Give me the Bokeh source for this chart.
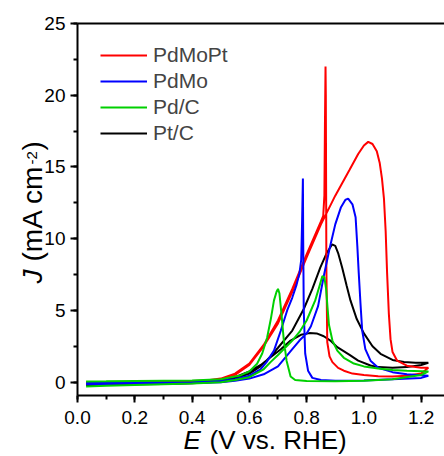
import math
from bokeh.plotting import figure
from bokeh.models import (Range1d, SingleIntervalTicker, LinearAxis, Legend, LegendItem,
                          PrintfTickFormatter)
from bokeh.core.properties import value
from bokeh.embed import file_html
from bokeh.resources import INLINE

# ---------------- data ----------------
series_names = ["PdMoPt", "PdMo", "Pd/C", "Pt/C"]
series_colors = ["#ff0000", "#0000ff", "#00d000", "#000000"]

# PdMoPt: forward then backward scan
pdmopt_E = [0.03, 0.1, 0.2, 0.3, 0.4, 0.45, 0.5, 0.55, 0.6, 0.65, 0.7, 0.75, 0.8, 0.85, 0.9,
            0.95, 0.98, 1.0, 1.015, 1.03, 1.045, 1.055, 1.063, 1.07, 1.076, 1.081, 1.087, 1.093,
            1.1, 1.116, 1.15, 1.2, 1.225,
            1.2, 1.15, 1.1, 1.05, 1.0, 0.96, 0.93, 0.91, 0.89, 0.88, 0.872, 0.869, 0.867, 0.866,
            0.864, 0.862, 0.858, 0.85, 0.8, 0.75, 0.7, 0.65, 0.6, 0.55, 0.5, 0.45, 0.4, 0.3,
            0.2, 0.1, 0.03]
pdmopt_J = [-0.1, -0.08, -0.05, -0.02, 0.05, 0.12, 0.25, 0.5, 1.2, 2.5, 4.1, 6.3, 8.7, 11.0, 13.0,
            14.8, 15.9, 16.5, 16.75, 16.6, 16.1, 15.3, 14.2, 12.8, 10.5, 7.6, 4.8, 3.0,
            2.1, 1.5, 1.15, 1.0, 1.0,
            0.6, 0.45, 0.4, 0.42, 0.5, 0.6, 0.8, 1.0, 1.4, 1.8, 2.8, 8.0, 20.0, 22.0,
            18.0, 13.0, 11.6, 11.2, 8.9, 6.5, 4.3, 2.6, 1.3, 0.6, 0.25, 0.12, 0.08, 0.05,
            0.03, 0.02, 0.0]

pdmo_E = [0.03, 0.1, 0.2, 0.3, 0.4, 0.5, 0.55, 0.6, 0.65, 0.7, 0.75, 0.775, 0.8, 0.815, 0.84,
          0.86, 0.88, 0.9, 0.92, 0.935, 0.945, 0.96, 0.971, 0.977, 0.982, 0.988, 0.994, 1.005,
          1.023, 1.05, 1.1, 1.15, 1.225,
          1.2, 1.1, 1.0, 0.9, 0.85, 0.82, 0.805, 0.795, 0.79, 0.788, 0.787, 0.784, 0.781,
          0.775, 0.765, 0.75, 0.732, 0.71, 0.686, 0.66, 0.639, 0.6, 0.55, 0.5, 0.4, 0.3, 0.2,
          0.1, 0.03]
pdmo_J = [-0.15, -0.12, -0.1, -0.08, -0.05, 0.0, 0.1, 0.25, 0.55, 1.1, 2.3, 2.9, 3.4, 3.9, 5.3,
          7.4, 9.3, 11.0, 12.2, 12.7, 12.8, 12.4, 11.5, 9.5, 7.6, 5.5, 3.6, 2.3,
          1.5, 1.0, 0.7, 0.55, 0.45,
          0.3, 0.2, 0.12, 0.1, 0.15, 0.3, 0.8, 2.0, 5.0, 10.0, 14.2, 11.0, 8.5,
          7.6, 6.8, 5.9, 5.0, 3.6, 2.2, 1.4, 0.9, 0.45, 0.2, 0.1, 0.0, -0.02, -0.03,
          -0.04, -0.05]

pdc_E = [0.03, 0.1, 0.2, 0.3, 0.4, 0.5, 0.55, 0.6, 0.65, 0.674, 0.7, 0.75, 0.775, 0.8, 0.83,
         0.845, 0.855, 0.862, 0.868, 0.873, 0.878, 0.89, 0.907, 0.93, 0.965, 1.0, 1.05, 1.1,
         1.15, 1.225,
         1.2, 1.1, 1.0, 0.9, 0.8, 0.76, 0.744, 0.73, 0.72, 0.712, 0.705, 0.7, 0.695, 0.686,
         0.675, 0.662, 0.645, 0.627, 0.6, 0.569, 0.5, 0.4, 0.3, 0.2, 0.1, 0.03]
pdc_J = [-0.3, -0.25, -0.2, -0.15, -0.1, 0.0, 0.15, 0.35, 0.9, 1.4, 1.9, 2.9, 3.5, 4.3, 5.7,
         6.7, 7.4, 7.3, 6.5, 5.2, 4.0, 2.9, 2.2, 1.7, 1.3, 1.1, 0.95, 0.85,
         0.8, 0.75,
         0.5, 0.2, 0.1, 0.06, 0.08, 0.15, 0.4, 1.5, 3.0, 4.8, 6.2, 6.5, 6.3, 5.7,
         4.4, 3.1, 2.0, 1.28, 0.75, 0.47, 0.2, 0.12, 0.1, 0.08, 0.06, 0.05]

ptc_E = [0.03, 0.1, 0.2, 0.3, 0.4, 0.5, 0.55, 0.6, 0.639, 0.674, 0.7, 0.75, 0.79, 0.82, 0.848,
         0.87, 0.889, 0.9, 0.91, 0.924, 0.94, 0.953, 0.975, 1.0, 1.03, 1.058, 1.1, 1.14, 1.18,
         1.225,
         1.2, 1.15, 1.1, 1.05, 1.023, 0.98, 0.95, 0.907, 0.883, 0.86, 0.835, 0.81, 0.78, 0.744,
         0.71, 0.674, 0.64, 0.6, 0.55, 0.5, 0.4, 0.3, 0.2, 0.1, 0.03]
ptc_J = [-0.2, -0.18, -0.15, -0.12, -0.08, 0.05, 0.25, 0.6, 1.1, 1.8, 2.4, 3.6, 5.1, 6.5, 8.0,
         9.0, 9.6, 9.5, 9.0, 8.0, 6.7, 5.7, 4.4, 3.4, 2.5, 1.98, 1.55, 1.4, 1.35,
         1.35,
         1.2, 1.05, 1.0, 1.05, 1.16, 1.5, 1.9, 2.44, 2.9, 3.2, 3.4, 3.42, 3.3, 2.9,
         2.3, 1.74, 1.2, 0.75, 0.35, 0.15, 0.05, 0.02, 0.0, -0.02, -0.05]

series_E = [pdmopt_E, pdmo_E, pdc_E, ptc_E]
series_J = [pdmopt_J, pdmo_J, pdc_J, ptc_J]

x_ticks_interval = 0.2
y_ticks_interval = 5
x_title_parts = ["E", "(V vs. RHE)"]
y_title_parts = ["J", "(mA cm", "-2", ")"]

FONT = "Liberation Sans"
X0, X1 = 0.0, 1.2814
Y0, Y1 = -0.928, 25.0

p = figure(width=444, height=456, output_backend="svg", toolbar_location=None,
           x_range=Range1d(X0, X1), y_range=Range1d(Y0, Y1),
           min_border_left=77, min_border_right=0, min_border_top=23, min_border_bottom=61,
           x_axis_location=None, y_axis_location=None)
p.outline_line_color = None
p.xgrid.visible = False
p.ygrid.visible = False
p.background_fill_color = "white"
p.border_fill_color = "white"

def style_axis(ax, size="19px"):
    ax.axis_line_width = 2
    ax.axis_line_color = "black"
    ax.major_tick_line_width = 2
    ax.minor_tick_line_width = 2
    ax.major_tick_out = 7
    ax.major_tick_in = 0
    ax.minor_tick_out = 4
    ax.minor_tick_in = 0
    ax.major_label_text_font = FONT
    ax.major_label_text_font_size = size
    ax.major_label_text_color = "black"

xaxis = LinearAxis(ticker=SingleIntervalTicker(interval=x_ticks_interval, num_minor_ticks=2),
                   formatter=PrintfTickFormatter(format="%.1f"))
style_axis(xaxis)
xaxis.major_label_standoff = 8
p.add_layout(xaxis, "below")

yaxis = LinearAxis(ticker=SingleIntervalTicker(interval=y_ticks_interval, num_minor_ticks=2))
style_axis(yaxis)
yaxis.major_label_standoff = 5
p.add_layout(yaxis, "left")

# top frame border (no right border in the reference)
p.line(x=[X0, X1], y=[Y1, Y1], line_color="black", line_width=2, level="overlay")

renderers = {}
for i in [3, 0, 1, 2]:
    renderers[i] = p.line(series_E[i], series_J[i], line_color=series_colors[i], line_width=2)

legend = Legend(items=[LegendItem(label=series_names[i], renderers=[renderers[i]]) for i in range(4)],
                location=(23, 249))
legend.label_text_font = FONT
legend.label_text_font_size = "21px"
legend.label_height = 26
legend.glyph_height = 26
legend.glyph_width = 47
legend.label_standoff = 6
legend.spacing = 0
legend.padding = 0
legend.margin = 0
legend.border_line_color = None
legend.background_fill_color = None
p.add_layout(legend, "center")

# axis titles, drawn as unclipped text glyphs (parts so that the symbols are italic)
def px2x(px):
    return X0 + (px - 77) * (X1 - X0) / 367.0

def py2y(py):
    return Y1 - (py - 23) * (Y1 - Y0) / 372.0

def txt(px, py, text, size, italic=False, angle=0.0):
    p.text(x=[px2x(px)], y=[py2y(py)], text=[text], angle=angle,
           text_font=value(FONT), text_font_style="italic" if italic else "normal",
           text_font_size="%dpx" % size, text_baseline="middle", text_align="left",
           text_color="black", level="overlay")

# baseline positions: x title baseline at y=448; y title baseline at x=42
xs = 26
txt(183, 448 - 0.346 * xs, x_title_parts[0], xs, italic=True)
txt(209, 448 - 0.346 * xs, x_title_parts[1], xs)

ang = math.pi / 2
ys = 28
txt(42 - 0.346 * ys, 283, y_title_parts[0], ys, italic=True, angle=ang)
txt(42 - 0.346 * ys, 261, y_title_parts[1], ys, angle=ang)
txt(37 - 0.346 * 15, 164, y_title_parts[2], 15, angle=ang)
txt(42 - 0.346 * ys, 150, y_title_parts[3], ys, angle=ang)

open("out.html", "w").write(file_html(p, INLINE))
